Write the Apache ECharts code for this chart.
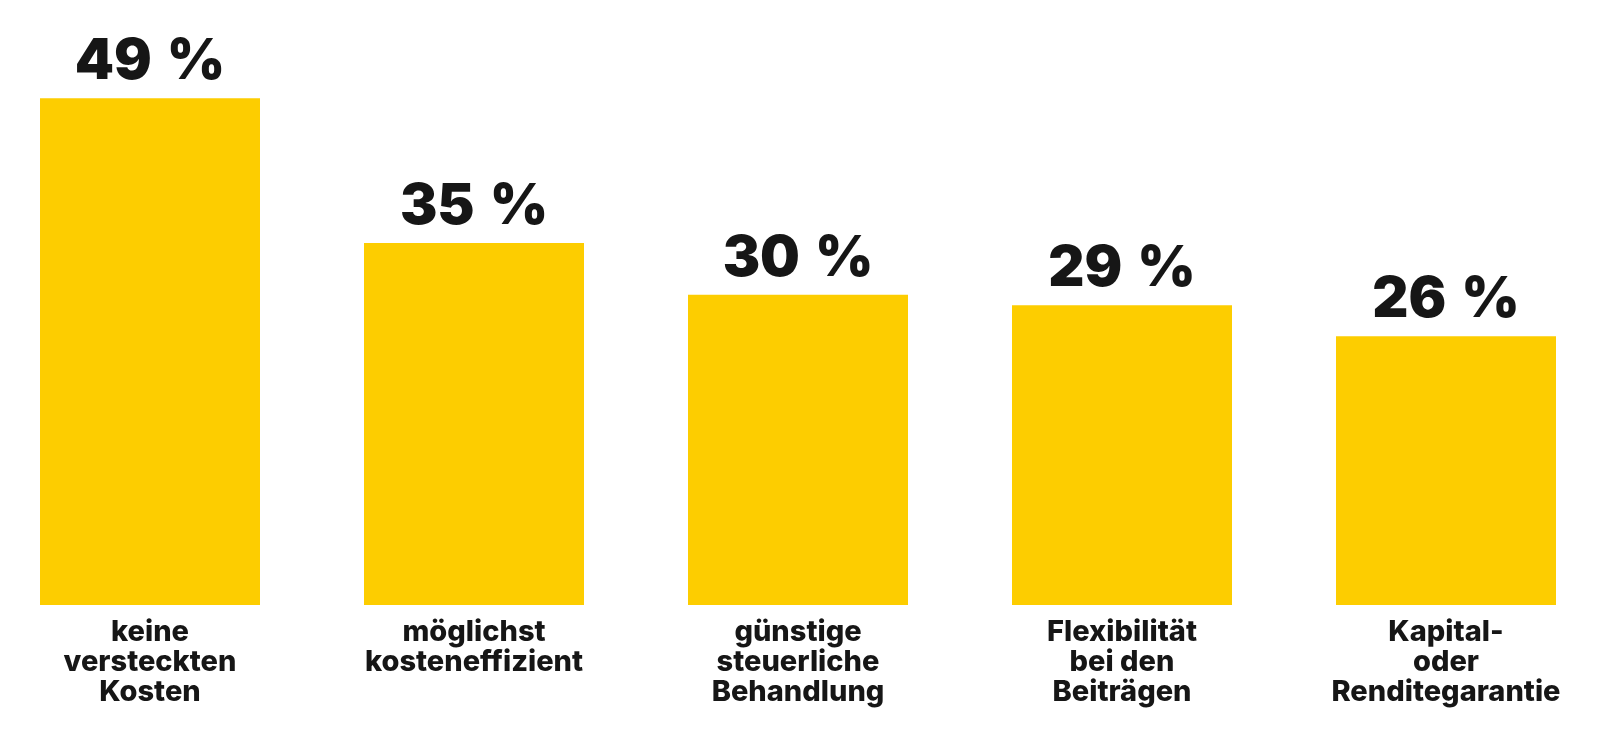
<!DOCTYPE html>
<html>
<head>
<meta charset="utf-8">
<title>Chart</title>
<script src="https://cdn.jsdelivr.net/npm/echarts@6/dist/echarts.min.js"></script>
<style>
    html, body { margin: 0; padding: 0; background: #ffffff; }
    #chart { width: 1601px; height: 756px; }
</style>
</head>
<body>
<div id="chart"></div>
<script>
// Kategorien (Achsenbeschriftung, mehrzeilig)
var categories = [
    "keine\nversteckten\nKosten",
    "möglichst\nkosteneffizient",
    "günstige\nsteuerliche\nBehandlung",
    "Flexibilität\nbei den\nBeiträgen",
    "Kapital-\noder\nRenditegarantie"
];
// Anteil in Prozent
var values = [49, 35, 30, 29, 26];

var barColor = "#fdcd00";
var textColor = "#161616";

var myChart = echarts.init(document.getElementById("chart"));

var option = {
    animation: false,
    // Raster: Balken stehen direkt auf der unsichtbaren x-Achse
    grid: {
        left: -12,
        top: 88,
        width: 1620,
        height: 517,
        outerBoundsMode: "none",
        containLabel: false
    },
    xAxis: [{
        type: "category",
        data: categories,
        axisLine: { show: false },
        axisTick: { show: false },
        axisLabel: {
            interval: 0,
            margin: 12,
            color: textColor,
            fontFamily: "Inter",
            fontWeight: 800,
            fontSize: 29,
            lineHeight: 30,
            align: "center"
        }
    }],
    yAxis: [{
        type: "value",
        min: 0,
        max: 50,
        show: false,
        splitLine: { show: false }
    }],
    series: [{
        type: "bar",
        data: values,
        barWidth: 220,
        itemStyle: { color: barColor },
        label: {
            show: true,
            position: "top",
            distance: 8,
            formatter: function (p) {
                return p.value + " \u200a%";
            },
            color: textColor,
            fontFamily: "Inter",
            fontWeight: 900,
            fontSize: 56
        }
    }]
};

myChart.setOption(option);
</script>
</body>
</html>
